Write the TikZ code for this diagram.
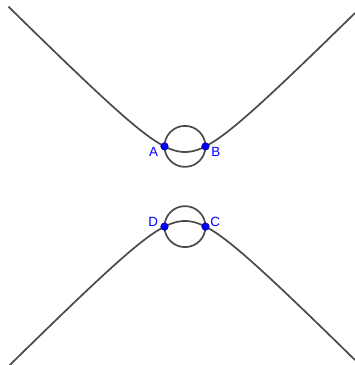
\documentclass[tikz,border=0pt]{standalone}
\usepackage{fontspec}
\setmainfont{Liberation Sans}
\usepackage{xcolor}
\usepackage{tikz}

\definecolor{curvegray}{HTML}{4A4A4A}
\definecolor{ptblue}{HTML}{0000FF}

\begin{document}
\begin{tikzpicture}[
  curve/.style={line width=1.4pt, color=curvegray},
  ring/.style={curve},
  pt/.style={circle, fill=ptblue, draw=ptblue!55!black, line width=0.4pt,
             inner sep=0pt, minimum size=2.2mm},
  lbl/.style={text=ptblue, font=\fontsize{11}{13}\selectfont, inner sep=0pt}
]
\useasboundingbox (-5.362,-5.174) rectangle (4.928,5.406);

% hyperbola y^2 - x^2 = 1
\draw[curve] plot[domain=-2.335:2.30, samples=120, smooth] ({sinh(\x)},{cosh(\x)});
\draw[curve] plot[domain=-2.33:2.30, samples=120, smooth] ({sinh(\x)},{-cosh(\x)});

% circles through the branch points
\coordinate (top) at (0,1.163);
\coordinate (bot) at (0,-1.163);
\draw[ring] (top) circle (0.594);
\draw[ring] (bot) circle (0.594);

\node[pt] (A) at (-0.594,1.163) {};
\node[pt] (B) at (0.594,1.163) {};
\node[pt] (D) at (-0.594,-1.163) {};
\node[pt] (C) at (0.594,-1.163) {};

\node[lbl] (labA) at ([shift={(-0.32,-0.16)}]A) {A};
\node[lbl] (labB) at ([shift={(0.30,-0.17)}]B) {B};
\node[lbl] (labD) at ([shift={(-0.33,0.15)}]D) {D};
\node[lbl] (labC) at ([shift={(0.28,0.13)}]C) {C};

\end{tikzpicture}
\end{document}
